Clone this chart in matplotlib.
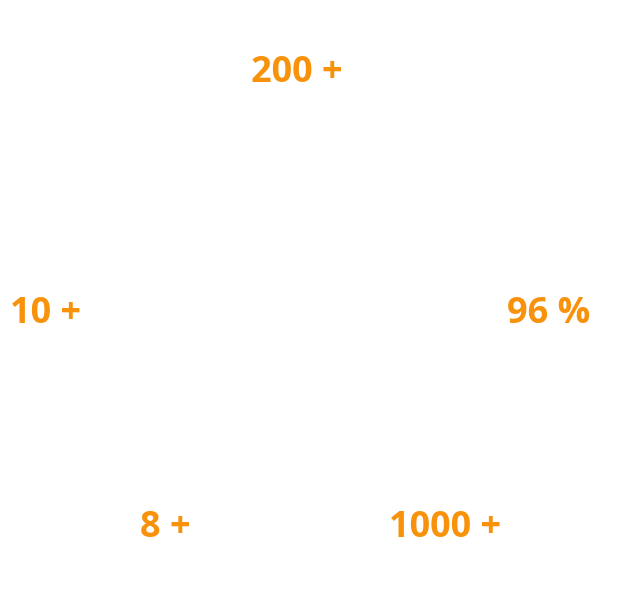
import matplotlib.pyplot as plt

labels = ["200 +", "10 +", "96 %", "8 +", "1000 +"]

# pixel centres of each label in the 627x594 image
xs = [297, 46, 549, 165, 445]
ys = [73, 314, 314, 528, 528]

fig = plt.figure(figsize=(6.27, 5.94), dpi=100)
ax = fig.add_axes([0, 0, 1, 1])
ax.set_xlim(0, 627)
ax.set_ylim(594, 0)
ax.axis("off")

for lab, x, y in zip(labels, xs, ys):
    ax.text(x, y, lab, ha="center", va="center", fontsize=26,
            fontweight="bold", color="#F7920A", family=["Open Sans", "DejaVu Sans"])

fig.savefig("out.png")
